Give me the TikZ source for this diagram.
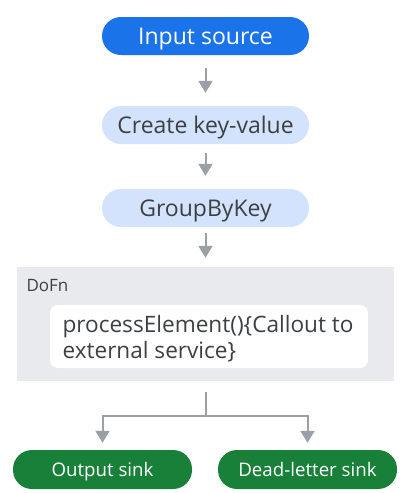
\documentclass[tikz,border=0pt]{standalone}
\usepackage{fontspec}
\setmainfont{Open Sans}
\usetikzlibrary{arrows.meta}

\definecolor{srcblue}{HTML}{1A73E8}
\definecolor{steplight}{HTML}{D3E3FD}
\definecolor{boxgray}{HTML}{E8EAED}
\definecolor{sinkgreen}{HTML}{188038}
\definecolor{txtdark}{HTML}{3C4043}
\definecolor{arrowgray}{HTML}{9AA0A6}

\begin{document}
\begin{tikzpicture}[x=1pt,y=-1pt,
        pill/.style={rounded corners=19pt, minimum width=207pt, minimum height=38pt,
            inner sep=0pt, text height=16.5pt, text depth=0pt,
            font=\fontsize{23}{27}\selectfont},
        sink/.style={pill, minimum width=179pt, minimum height=39pt,
            fill=sinkgreen, text=white, text height=13.4pt,
            font=\fontsize{18.7}{22}\selectfont},
        flow/.style={arrowgray, line width=2pt,
            -{Triangle[width=14pt,length=12pt]}}]

        \def \cx {205.5}

        \useasboundingbox (0,0) rectangle (411,493);

        % Pipeline steps
        \node[pill, fill=srcblue, text=white] (src) at (\cx, 36) {Input source};
        \node[pill, fill=steplight, text=txtdark] (kv) at (\cx, 125) {Create key-value};
        \node[pill, fill=steplight, text=txtdark] (gbk) at (\cx, 208) {GroupByKey};

        % DoFn block
        \node[fill=boxgray, minimum width=377pt, minimum height=114pt, inner sep=0pt] (dofn) at (\cx, 324) {};
        \node[anchor=base west, text=txtdark, font=\fontsize{17}{20}\selectfont] (dofnlabel) at (23, 291) {DoFn};
        \node[fill=white, rounded corners=8pt, minimum width=318pt, minimum height=63pt, inner sep=0pt] (call) at (209, 336.5) {};
        \node[anchor=base west, text=txtdark, align=left, font=\fontsize{22.6}{26}\selectfont] (calltext) at (59, 358)
            {processElement()\{Callout to\\external service\}};

        % Sinks
        \node[sink] (out) at (102.5, 469.5) {Output sink};
        \node[sink] (dead) at (307.5, 469.5) {Dead-letter sink};

        % Arrows
        \draw[flow, shorten <=13pt, shorten >=13pt] (src) -- (kv);
        \draw[flow, shorten <=9pt, shorten >=13pt] (kv) -- (gbk);
        \draw[flow, shorten <=6pt, shorten >=9pt] (gbk) -- (dofn);
        \coordinate (split) at (\cx, 416);
        \draw[arrowgray, line width=2pt, shorten <=11pt] (dofn) -- (split);
        \draw[flow, shorten >=7pt] (split) -| (out);
        \draw[flow, shorten >=7pt] (split) -| (dead);

    \end{tikzpicture}
\end{document}
